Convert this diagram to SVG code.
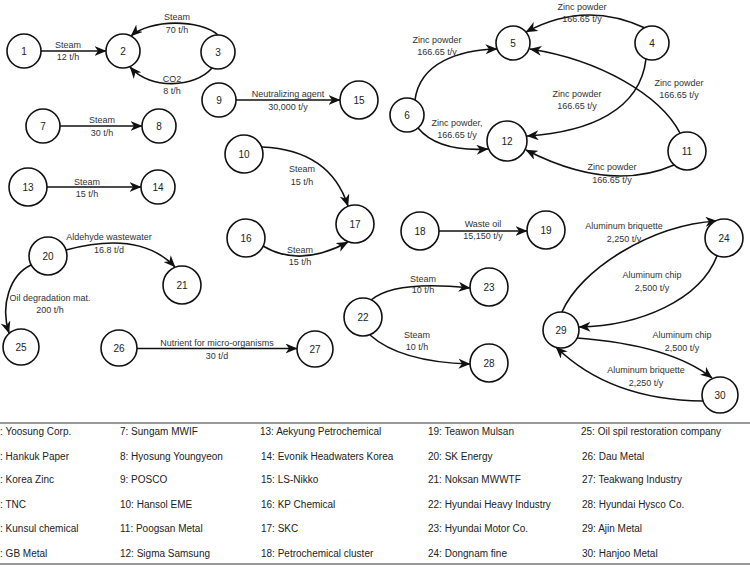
<svg xmlns="http://www.w3.org/2000/svg" width="750" height="570" viewBox="0 0 750 570">
<defs>
<style>
.n circle{fill:#fff;stroke:#111;stroke-width:1.6}
.n text{font-family:"Liberation Sans",Arial,sans-serif;font-size:10px;fill:#222;text-anchor:middle}
.e path{fill:none;stroke:#111;stroke-width:1.6;marker-end:url(#arr)}
.lb text{font-family:"Liberation Sans",Arial,sans-serif;font-size:9px;fill:#333;text-anchor:middle}
.lg text{font-family:"Liberation Sans",Arial,sans-serif;font-size:10px;fill:#222}
.lg line{stroke:#777;stroke-width:1.5}
</style>
<marker id="arr" viewBox="0 0 12 10" refX="11.5" refY="5" markerWidth="12" markerHeight="10" orient="auto" markerUnits="userSpaceOnUse">
<path d="M0,0 L12,5 L0,10 L3.5,5 z" fill="#111"/>
</marker>
</defs>
<rect width="750" height="570" fill="#fff"/>
<g id="connectors" class="e">
<path d="M41,51 L106,51"/>
<path d="M218,35 C200,19 150,19 131,36"/>
<path d="M212,68 C195,88 150,90 130,67"/>
<path d="M60,126 L142,126"/>
<path d="M47,187 L141,187"/>
<path d="M236,100 L340,100"/>
<path d="M262,147 Q330,150 348,206"/>
<path d="M263,246 Q300,268 348,242"/>
<path d="M645,28 Q585,0 526,32"/>
<path d="M415,100 C420,62 460,50 497,49"/>
<path d="M418,128 Q438,152 488,149"/>
<path d="M646,59 C640,110 590,132 527,136"/>
<path d="M680,133 C660,95 600,60 530,49"/>
<path d="M674,165 Q610,193 526,150"/>
<path d="M66,250 Q140,230 175,267"/>
<path d="M31,265 C10,275 0,305 9,333"/>
<path d="M137,348.5 L297,348.5"/>
<path d="M439,231 L527,231"/>
<path d="M371,300 Q395,280 470,288"/>
<path d="M370,335 Q400,362 470,364"/>
<path d="M562,312 C580,270 650,225 717,221"/>
<path d="M717,256 C700,300 640,326 579,327"/>
<path d="M577,338 Q670,345 712,378"/>
<path d="M703,401 Q610,400 556,347"/>
</g>
<g id="edge-labels" class="lb">
<text x="68" y="48">Steam</text><text x="68" y="60">12 t/h</text>
<text x="177" y="20">Steam</text><text x="177" y="32.5">70 t/h</text>
<text x="172" y="81.5">CO2</text><text x="172" y="94">8 t/h</text>
<text x="102" y="122.5">Steam</text><text x="102" y="135.5">30 t/h</text>
<text x="87" y="185">Steam</text><text x="87" y="197">15 t/h</text>
<text x="288" y="97">Neutralizing agent</text><text x="288" y="110">30,000 t/y</text>
<text x="302" y="172">Steam</text><text x="302" y="185">15 t/h</text>
<text x="300" y="252.5">Steam</text><text x="300" y="265">15 t/h</text>
<text x="582" y="10">Zinc powder</text><text x="582" y="22">166.65 t/y</text>
<text x="437" y="42.5">Zinc powder</text><text x="437" y="55">166.65 t/y</text>
<text x="457" y="126">Zinc powder,</text><text x="457" y="138">166.65 t/y</text>
<text x="577" y="96.5">Zinc powder</text><text x="577" y="109">166.65 t/y</text>
<text x="679" y="85.5">Zinc powder</text><text x="679" y="97.5">166.65 t/y</text>
<text x="612" y="170">Zinc powder</text><text x="612" y="183">166.65 t/y</text>
<text x="109" y="240">Aldehyde wastewater</text><text x="109" y="252.5">16.8 t/d</text>
<text x="50" y="300.5">Oil degradation mat.</text><text x="50" y="312.5">200 t/h</text>
<text x="217" y="346">Nutrient for micro-organisms</text><text x="217" y="359">30 t/d</text>
<text x="483" y="227">Waste oil</text><text x="483" y="239">15,150 t/y</text>
<text x="423" y="281.5">Steam</text><text x="423" y="293">10 t/h</text>
<text x="417" y="337.5">Steam</text><text x="417" y="350">10 t/h</text>
<text x="624" y="229">Aluminum briquette</text><text x="624" y="241.5">2,250 t/y</text>
<text x="652" y="278">Aluminum chip</text><text x="652" y="290.5">2,500 t/y</text>
<text x="682" y="338">Aluminum chip</text><text x="682" y="350.5">2,500 t/y</text>
<text x="646" y="373">Aluminum briquette</text><text x="646" y="386">2,250 t/y</text>
</g>
<g id="node1" class="n"><circle cx="24" cy="51" r="17"/><text x="24" y="54.5">1</text></g>
<g id="node2" class="n"><circle cx="123" cy="51" r="17"/><text x="123" y="54.5">2</text></g>
<g id="node3" class="n"><circle cx="218" cy="52" r="17"/><text x="218" y="55.5">3</text></g>
<g id="node4" class="n"><circle cx="652" cy="43" r="17"/><text x="652" y="46.5">4</text></g>
<g id="node5" class="n"><circle cx="513" cy="43" r="17"/><text x="513" y="46.5">5</text></g>
<g id="node6" class="n"><circle cx="407" cy="115" r="17"/><text x="407" y="118.5">6</text></g>
<g id="node7" class="n"><circle cx="43" cy="126" r="17"/><text x="43" y="129.5">7</text></g>
<g id="node8" class="n"><circle cx="159" cy="126" r="17"/><text x="159" y="129.5">8</text></g>
<g id="node9" class="n"><circle cx="219" cy="100" r="17"/><text x="219" y="103.5">9</text></g>
<g id="node10" class="n"><circle cx="244" cy="154" r="19"/><text x="244" y="157.5">10</text></g>
<g id="node11" class="n"><circle cx="687" cy="151" r="19"/><text x="687" y="154.5">11</text></g>
<g id="node12" class="n"><circle cx="507" cy="141" r="20"/><text x="507" y="144.5">12</text></g>
<g id="node13" class="n"><circle cx="28" cy="187" r="19"/><text x="28" y="190.5">13</text></g>
<g id="node14" class="n"><circle cx="158" cy="187" r="17"/><text x="158" y="190.5">14</text></g>
<g id="node15" class="n"><circle cx="359" cy="100" r="19"/><text x="359" y="103.5">15</text></g>
<g id="node16" class="n"><circle cx="246" cy="238" r="19"/><text x="246" y="241.5">16</text></g>
<g id="node17" class="n"><circle cx="355" cy="224" r="19"/><text x="355" y="227.5">17</text></g>
<g id="node18" class="n"><circle cx="420" cy="231" r="19"/><text x="420" y="234.5">18</text></g>
<g id="node19" class="n"><circle cx="546" cy="230" r="19"/><text x="546" y="233.5">19</text></g>
<g id="node20" class="n"><circle cx="48" cy="256" r="19"/><text x="48" y="259.5">20</text></g>
<g id="node21" class="n"><circle cx="182" cy="285" r="19"/><text x="182" y="288.5">21</text></g>
<g id="node22" class="n"><circle cx="363" cy="317" r="19"/><text x="363" y="320.5">22</text></g>
<g id="node23" class="n"><circle cx="489" cy="287" r="19"/><text x="489" y="290.5">23</text></g>
<g id="node24" class="n"><circle cx="724" cy="238" r="19"/><text x="724" y="241.5">24</text></g>
<g id="node25" class="n"><circle cx="21" cy="347" r="18"/><text x="21" y="350.5">25</text></g>
<g id="node26" class="n"><circle cx="119" cy="348" r="18"/><text x="119" y="351.5">26</text></g>
<g id="node27" class="n"><circle cx="315" cy="349" r="18"/><text x="315" y="352.5">27</text></g>
<g id="node28" class="n"><circle cx="489" cy="363" r="19"/><text x="489" y="366.5">28</text></g>
<g id="node29" class="n"><circle cx="561" cy="330" r="18"/><text x="561" y="333.5">29</text></g>
<g id="node30" class="n"><circle cx="720" cy="395" r="18"/><text x="720" y="398.5">30</text></g>
<g id="legend" class="lg">
<line x1="0" y1="423" x2="750" y2="423"/>
<line x1="0" y1="564" x2="750" y2="564"/>
<text x="-5.5" y="435">1: Yoosung Corp.</text>
<text x="-5.5" y="459.5">2: Hankuk Paper</text>
<text x="-5.5" y="483">3: Korea Zinc</text>
<text x="-5.5" y="507.5">4: TNC</text>
<text x="-5.5" y="532">5: Kunsul chemical</text>
<text x="-5.5" y="557">6: GB Metal</text>
<text x="120" y="435">7: Sungam MWIF</text>
<text x="120" y="459.5">8: Hyosung Youngyeon</text>
<text x="120" y="483">9: POSCO</text>
<text x="120" y="507.5">10: Hansol EME</text>
<text x="120" y="532">11: Poogsan Metal</text>
<text x="120" y="557">12: Sigma Samsung</text>
<text x="260" y="435">13: Aekyung Petrochemical</text>
<text x="261" y="459.5">14: Evonik Headwaters Korea</text>
<text x="261" y="483">15: LS-Nikko</text>
<text x="261" y="507.5">16: KP Chemical</text>
<text x="261" y="532">17: SKC</text>
<text x="261" y="557">18: Petrochemical cluster</text>
<text x="428" y="435">19: Teawon Mulsan</text>
<text x="428" y="459.5">20: SK Energy</text>
<text x="428" y="483">21: Noksan MWWTF</text>
<text x="428" y="507.5">22: Hyundai Heavy Industry</text>
<text x="428" y="532">23: Hyundai Motor Co.</text>
<text x="428" y="557">24: Dongnam fine</text>
<text x="581" y="435">25: Oil spil restoration company</text>
<text x="582" y="459.5">26: Dau Metal</text>
<text x="582" y="483">27: Teakwang Industry</text>
<text x="582" y="507.5">28: Hyundai Hysco Co.</text>
<text x="582" y="532">29: Ajin Metal</text>
<text x="582" y="557">30: Hanjoo Metal</text>
</g>
</svg>
